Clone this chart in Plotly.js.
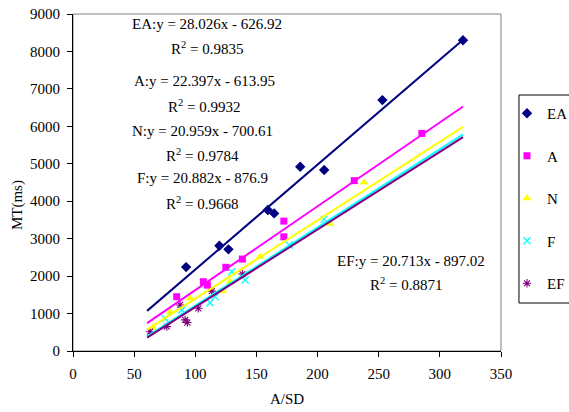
<!DOCTYPE html>
<html>
<head>
<meta charset="utf-8">
<script src="https://cdn.plot.ly/plotly-3.0.1.min.js"></script>
<style>html,body{margin:0;padding:0;background:#fff;}#chart{width:569px;height:412px;}</style>
</head>
<body>
<div id="chart"></div>
<script>
// Series names
const seriesNames = ["EA", "A", "N", "F", "EF"];

// Measured points (A/SD, MT in ms)
const EA_x = [92.5, 119.7, 127.1, 159.3, 164.5, 185.8, 205.4, 253.0, 318.9];
const EA_y = [2240, 2810, 2715, 3765, 3675, 4920, 4833, 6700, 8300];

const A_x = [84.8, 106.6, 109.9, 125.0, 138.5, 172.4, 172.4, 230.0, 285.3];
const A_y = [1450, 1850, 1760, 2235, 2455, 3470, 3050, 4550, 5810];

const N_x = [65.0, 79.4, 95.7, 122.2, 128.5, 153.0, 210.0, 238.0];
const N_y = [620, 1050, 1410, 1600, 1850, 2520, 3400, 4500];

const F_x = [75.3, 89.0, 112.0, 116.2, 129.8, 140.7, 176.8, 205.4];
const F_y = [870, 1095, 1290, 1450, 2115, 1895, 2830, 3515];

const EF_x = [63.0, 76.7, 87.6, 91.7, 93.5, 102.5, 113.5, 138.5];
const EF_y = [515, 650, 1230, 830, 760, 1140, 1600, 2055];

// Linear trendlines (slope, intercept, R²) and their x span
const slopes = [28.026, 22.397, 20.959, 20.882, 20.713];
const intercepts = [-626.92, -613.95, -700.61, -876.9, -897.02];
const r2 = ["0.9835", "0.9932", "0.9784", "0.9668", "0.8871"];
const eqLabels = ["EA:y = 28.026x - 626.92", "A:y = 22.397x - 613.95", "N:y = 20.959x - 700.61", "F:y = 20.882x - 876.9", "EF:y = 20.713x - 897.02"];
const trendRange = [60.6, 319];

// Axis ticks
const xTicks = [0, 50, 100, 150, 200, 250, 300, 350];
const yTicks = [0, 1000, 2000, 3000, 4000, 5000, 6000, 7000, 8000, 9000];

const serif = "Liberation Serif, Times New Roman, serif";
const colors = ["#000080", "#FF00FF", "#FFFF00", "#00FFFF", "#800080"];
const xs = [EA_x, A_x, N_x, F_x, EF_x];
const ys = [EA_y, A_y, N_y, F_y, EF_y];
const markers = [
  {symbol: "diamond", size: 8, color: colors[0]},
  {symbol: "square", size: 7, color: colors[1]},
  {symbol: "triangle-up", size: 8, color: colors[2]},
  {symbol: "x-thin-open", size: 7, color: colors[3], line: {color: colors[3], width: 1.3}},
  {symbol: "asterisk-open", size: 7, color: colors[4], line: {color: colors[4], width: 1.1}}
];

const traces = [];
seriesNames.forEach((n, i) => {
  traces.push({
    type: "scatter", mode: "markers", name: n, x: xs[i], y: ys[i],
    marker: markers[i], legendgroup: n, cliponaxis: false
  });
});
seriesNames.forEach((n, i) => {
  traces.push({
    type: "scatter", mode: "lines", name: n + " trend", showlegend: false,
    x: trendRange,
    y: trendRange.map(v => slopes[i] * v + intercepts[i]),
    line: {color: colors[i], width: 2}, hoverinfo: "skip"
  });
});

// Label positions (layout only)
const eqPos = [[109.7, 8733], [107.6, 7211], [106.0, 5876], [105.6, 4620], [276.3, 2403]];
const r2Pos = [[109.7, 8092], [107.2, 6543], [105.6, 5234], [105.6, 3952], [272.5, 1789]];

const annotations = [];
seriesNames.forEach((n, i) => {
  annotations.push({x: eqPos[i][0], y: eqPos[i][1], xref: "x", yref: "y", text: eqLabels[i],
    xanchor: "center", yanchor: "middle",
    showarrow: false, font: {family: serif, size: 15, color: "#000"}});
  annotations.push({x: r2Pos[i][0], y: r2Pos[i][1], xref: "x", yref: "y", text: "R<sup>2</sup> = " + r2[i],
    xanchor: "center", yanchor: "middle",
    showarrow: false, font: {family: serif, size: 15, color: "#000"}});
});
annotations.push({x: -0.1308, y: 0.433, xref: "paper", yref: "paper", text: "MT(ms)", textangle: -90,
  xanchor: "center", yanchor: "middle",
  showarrow: false, font: {family: serif, size: 15, color: "#000"}});

const layout = {
  width: 569, height: 412,
  margin: {l: 73, r: 68, t: 14, b: 61, autoexpand: false},
  paper_bgcolor: "#fff", plot_bgcolor: "#fff",
  font: {family: serif, size: 15, color: "#000"},
  showlegend: true,
  legend: {
    x: 1.014, xanchor: "left", y: 0.7537, yanchor: "top",
    bgcolor: "rgba(0,0,0,0)", borderwidth: 0,
    font: {family: serif, size: 15, color: "#000"},
    traceorder: "grouped", tracegroupgap: 20
  },
  xaxis: {
    range: [0, 350], tickvals: xTicks, ticktext: xTicks.map(String),
    showgrid: false, zeroline: false, showline: true, linecolor: "#000", linewidth: 1,
    ticks: "outside", ticklen: 5, tickcolor: "#000", ticklabelstandoff: 4,
    title: {text: "A/SD", font: {family: serif, size: 15, color: "#000"}, standoff: 12},
    automargin: false, fixedrange: true
  },
  yaxis: {
    range: [0, 9000], tickvals: yTicks, ticktext: yTicks.map(String),
    showgrid: false, zeroline: false, showline: true, linecolor: "#000", linewidth: 1,
    ticks: "outside", ticklen: 5, tickcolor: "#000", ticklabelstandoff: 4,
    automargin: false, fixedrange: true
  },
  shapes: [
    {type: "rect", xref: "paper", yref: "paper", x0: 0, x1: 1, y0: 0, y1: 1,
      line: {color: "#808080", width: 1}, layer: "below"},
    {type: "rect", xref: "paper", yref: "paper", x0: 1.042, x1: 1.25, y0: 0.1424, y1: 0.7596,
      line: {color: "#000", width: 1}}
  ],
  annotations: annotations
};

Plotly.newPlot("chart", traces, layout, {displayModeBar: false, staticPlot: true});
</script>
</body>
</html>
